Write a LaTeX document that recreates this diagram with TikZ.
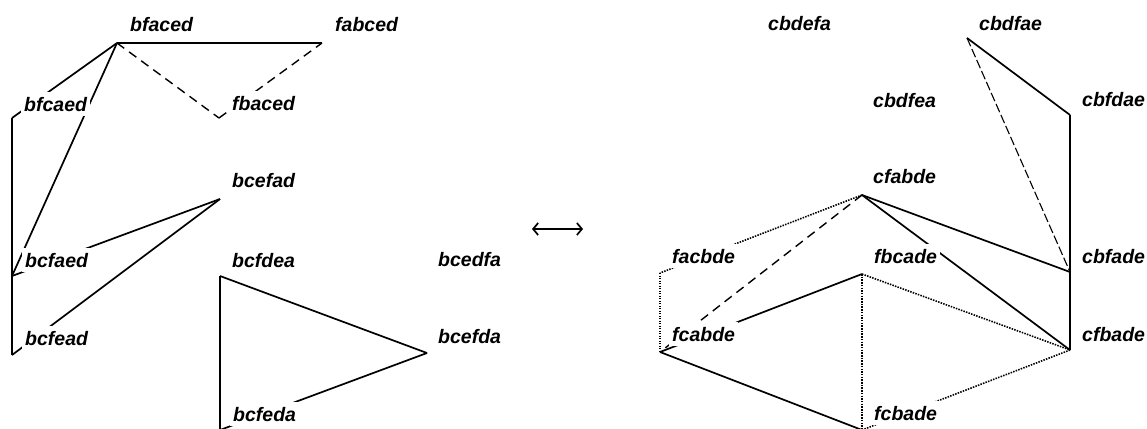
\documentclass[tikz,border=0pt]{standalone}
\usepackage{fontspec}
\setmainfont{Liberation Sans}
\usetikzlibrary{arrows.meta}
\begin{document}
\begin{tikzpicture}[x=1pt,y=-1pt,
  lbl/.style={fill=white, inner xsep=3pt, inner ysep=5pt, anchor=base west,
    font=\fontsize{19.5}{22}\selectfont\bfseries\itshape},
  edge/.style={line width=1.7pt},
  heavyedge/.style={line width=2.8pt},
  dashline/.style={line width=1.4pt, dash pattern=on 9pt off 6pt},
  longdash/.style={line width=1.1pt, dash pattern=on 9pt off 3pt},
  dotline/.style={line width=1.6pt, dash pattern=on 1.5pt off 1.2pt},
  finedot/.style={line width=1.1pt, dash pattern=on 1.2pt off 1.3pt},
  twoway/.style={line width=1.7pt, {Straight Barb[length=5pt,width=12pt]}-{Straight Barb[length=5pt,width=12pt]}}
]
\useasboundingbox (0,0) rectangle (1147,428);

% ---------- left graph: vertices ----------
\coordinate (v-bfaced) at (117,43);
\coordinate (v-fabced) at (322,43);
\coordinate (v-bfcaed) at (12,118);
\coordinate (v-fbaced) at (219,118);
\coordinate (v-bcefad) at (220,199);
\coordinate (v-bcfaed) at (12,276);
\coordinate (v-bcfdea) at (220,276);
\coordinate (v-bcefda) at (427,353);
\coordinate (v-bcfead) at (12,355);
\coordinate (v-bcfeda) at (220,430);

% ---------- right graph: vertices ----------
\coordinate (v-cbdfae) at (967,38);
\coordinate (v-cbfdae) at (1070,115);
\coordinate (v-cfabde) at (862,195);
\coordinate (v-facbde) at (660,273);
\coordinate (v-fbcade) at (862,274);
\coordinate (v-cbfade) at (1070,272);
\coordinate (v-fcabde) at (660,352);
\coordinate (v-cfbade) at (1070,350);
\coordinate (v-fcbade) at (862,430);

% ---------- arrow ----------
\coordinate (arrL) at (532,229);
\coordinate (arrR) at (583,229);
\draw[twoway] (arrL) -- (arrR);

% ---------- left edges ----------
\draw[edge] (v-bfaced) -- (v-fabced);
\draw[dashline] (v-bfaced) -- (v-fbaced);
\draw[dashline] (v-fbaced) -- (v-fabced);
\draw[edge] (v-bfaced) -- (v-bfcaed);
\draw[edge] (v-bfaced) -- (v-bcfaed);
\draw[edge] (v-bfcaed) -- (v-bcfead);
\draw[edge] (v-bcefad) -- (v-bcfaed);
\draw[edge] (v-bcefad) -- (v-bcfead);
\draw[edge] (v-bcfdea) -- (v-bcefda);
\draw[heavyedge] (v-bcfdea) -- (v-bcfeda);
\draw[edge] (v-bcefda) -- (v-bcfeda);

% ---------- right edges ----------
\draw[edge] (v-cbdfae) -- (v-cbfdae);
\draw[longdash] (v-cbdfae) -- (v-cbfade);
\draw[edge] (v-cbfdae) -- (v-cfbade);
\draw[edge] (v-cfabde) -- (v-cbfade);
\draw[edge] (v-cfabde) -- (v-cfbade);
\draw[dotline] (v-cfabde) -- (v-facbde);
\draw[dashline] (v-cfabde) -- (v-fcabde);
\draw[finedot] (v-facbde) -- (v-fcabde);
\draw[edge] (v-fbcade) -- (v-fcabde);
\draw[dotline] (v-fbcade) -- (v-fcbade);
\draw[dotline] (v-fbcade) -- (v-cfbade);
\draw[edge] (v-fcabde) -- (v-fcbade);
\draw[dotline] (v-cfbade) -- (v-fcbade);

% ---------- left labels ----------
\node[lbl] (l-bfaced) at (127,32) {bfaced};
\node[lbl] (l-fabced) at (332,32) {fabced};
\node[lbl] (l-bfcaed) at (21,111) {bfcaed};
\node[lbl] (l-fbaced) at (229,110) {fbaced};
\node[lbl] (l-bcefad) at (229,187) {bcefad};
\node[lbl] (l-bcfaed) at (22,267) {bcfaed};
\node[lbl] (l-bcfdea) at (229,267) {bcfdea};
\node[lbl] (l-bcedfa) at (435,266) {bcedfa};
\node[lbl] (l-bcefda) at (435,343) {bcefda};
\node[lbl] (l-bcfead) at (22,345) {bcfead};
\node[lbl] (l-bcfeda) at (230,421) {bcfeda};

% ---------- right labels ----------
\node[lbl] (l-cbdefa) at (765,31) {cbdefa};
\node[lbl] (l-cbdfae) at (976,31) {cbdfae};
\node[lbl] (l-cbdfea) at (870,107) {cbdfea};
\node[lbl] (l-cbfdae) at (1079,106) {cbfdae};
\node[lbl] (l-cfabde) at (870,183) {cfabde};
\node[lbl] (l-facbde) at (669,263) {facbde};
\node[lbl] (l-fbcade) at (871,263) {fbcade};
\node[lbl] (l-cbfade) at (1079,263) {cbfade};
\node[lbl] (l-fcabde) at (669,341) {fcabde};
\node[lbl] (l-cfbade) at (1079,341) {cfbade};
\node[lbl] (l-fcbade) at (871,420) {fcbade};
\end{tikzpicture}
\end{document}
